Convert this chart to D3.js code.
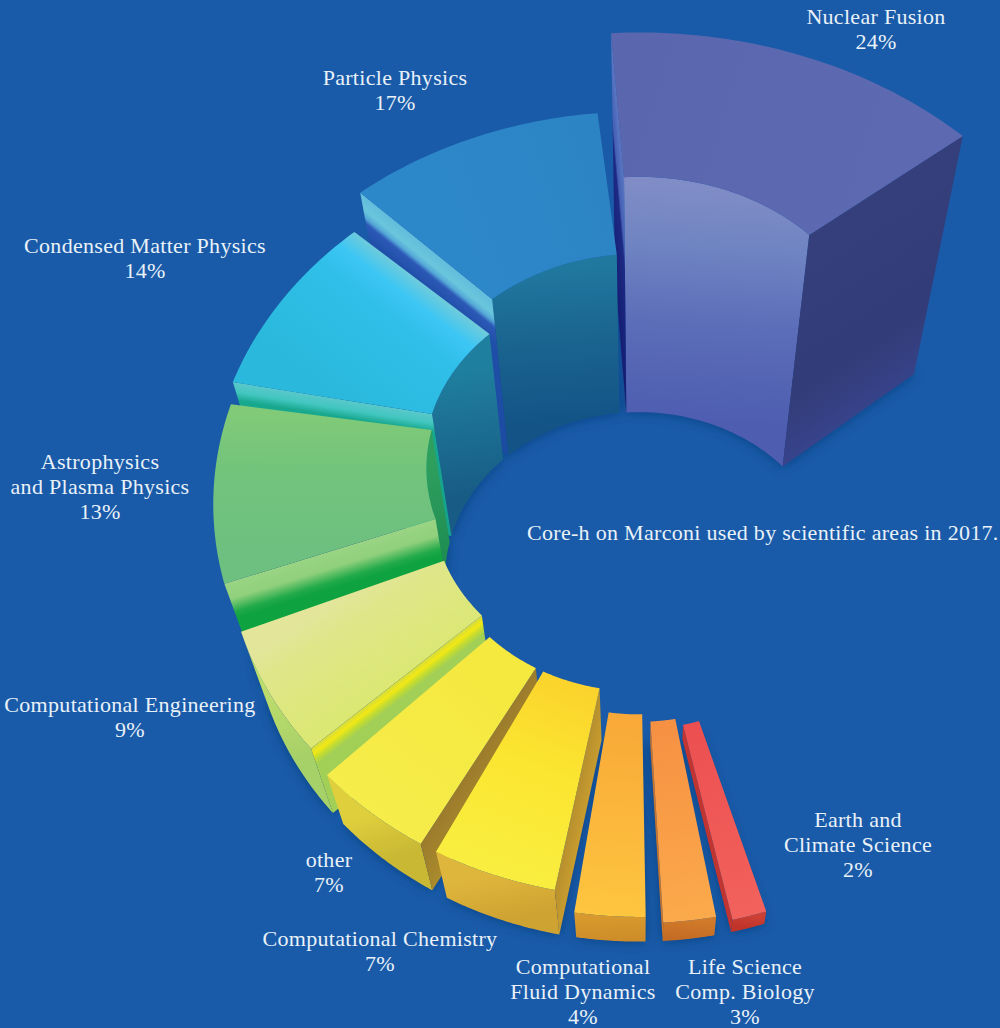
<!DOCTYPE html><html><head><meta charset="utf-8">
<script src="https://cdnjs.cloudflare.com/ajax/libs/d3/7.8.5/d3.min.js"></script>
<style>html,body{margin:0;background:#195ba8}svg{display:block}text{font-family:"Liberation Serif",serif;font-size:22px;fill:#e9f1f9;text-anchor:middle;letter-spacing:.3px}</style></head><body>
<script>
// Scientific areas, clockwise around the ring, and their share of core-hours (%)
const areas = ["Earth and Climate Science","Life Science Comp. Biology","Computational Fluid Dynamics","Computational Chemistry","other","Computational Engineering","Astrophysics and Plasma Physics","Condensed Matter Physics","Particle Physics","Nuclear Fusion"];
const shares = [2,3,4,7,7,9,13,14,17,24];
const chartTitle = "Core-h on Marconi used by scientific areas in 2017.";

// Text lines of each label, in the same order as the areas
const labelLines = [["Earth and","Climate Science"],["Life Science","Comp. Biology"],["Computational","Fluid Dynamics"],["Computational Chemistry"],["other"],["Computational Engineering"],["Astrophysics","and Plasma Physics"],["Condensed Matter Physics"],["Particle Physics"],["Nuclear Fusion"]];
const labelAnchors = [[858,827],[745,974],[583,974],[380,946],[329,867],[130,712],[100,469],[145,253],[395,85],[876,24]];
const labelStep = 25.2;

// Camera of the perspective view and size of the ring in world units
const cam = {ox:639.09, oy:462.29, focal:1783.66, dist:463.59, pitch:0.958, lift:27.32};
const outerRadius = 100, innerRadius = 50.31;
const ringStart = 2.8312, ringSpan = 4.3521, ringPad = 0.0391;
const height = d3.scaleLinear().domain([0,100]).range([0,383.54]);

// Face colours per slice: top, inner wall, outer wall, start cap, end cap. Stops run from the top edge of a wall downwards.
const paint = [
 {top:["radial",[[0,"#ec4f50"],[1,"#f2625c"]]], inner:[[0,"#c0332f"]], outer:[[0,"#cc3f34"],[1,"#bf3329"]], cs:[[0,"#c0332f"]], ce:[[0,"#c23430"]]},
 {top:["radial",[[0,"#f69043"],[1,"#fbaa4b"]]], inner:[[0,"#c8742a"]], outer:[[0,"#d07a2a"],[1,"#c56c24"]], cs:[[0,"#c8742a"]], ce:[[0,"#c8742a"]]},
 {top:["radial",[[0,"#f8a838"],[1,"#fec53f"]]], inner:[[0,"#d09030"]], outer:[[0,"#d89a2e"],[1,"#cd8c28"]], cs:[[0,"#d09030"]], ce:[[0,"#c88a2c"]]},
 {top:["radial",[[0,"#fbd32c"],[.45,"#fbe631"],[1,"#f9ee40"]]], inner:[[0,"#d0a030"]], outer:[[0,"#dfb63c"],[1,"#cea332"]], cs:[[0,"#b68f2e"],[1,"#c89c2e"]], ce:[[0,"#b08a2c"]]},
 {top:["radial",[[0,"#f5e83e"],[1,"#f6ec4a"]]], inner:[[0,"#b09a30"]], outer:[[0,"#e0cf3c"],[1,"#c9b834"]], cs:[[0,"#9c7c2c"],[1,"#a98a2c"]], ce:[[0,"#a08a30"]]},
 {top:["across",[[0,"#e2e59a"],[.25,"#dfe68a"],[1,"#dbe873"]]], inner:[[0,"#9cc050"]], outer:[[0,"#bcdc6c"],[1,"#a6d068"]], cs:[[0,"#d4dc40"],[.09,"#f2e814"],[.17,"#c4dc30"],[.26,"#a2cf56"],[1,"#a2cf56"]], ce:[[0,"#a6c850"]]},
 {top:["across",[[0,"#80ca78"],[.4,"#72c37c"],[1,"#6dc07f"]]], inner:[[0,"#2f9f5e"],[1,"#1c8a50"]], outer:[[0,"#62b46e"]], cs:[[0,"#9ad484"],[.15,"#90d07c"],[.27,"#22aa4a"],[.33,"#0fa240"],[1,"#0fa240"]], ce:[[0,"#3a9a5c"]]},
 {top:["across",[[0,"#6fcbdb"],[.14,"#3cc6f4"],[.32,"#2fbfe8"],[1,"#2ab9dc"]]], inner:[[0,"#1f7f9e"],[1,"#185c86"]], outer:[[0,"#2aa0c0"]], cs:[[0,"#5ac8cc"],[.08,"#42c6c0"],[.15,"#18a88e"],[1,"#14a28c"]], ce:[[0,"#1e6aa0"]]},
 {top:["across",[[0,"#2c84c4"],[1,"#2d88ca"]]], inner:[[0,"#20789f"],[.45,"#1a6490"],[1,"#135386"]], outer:[[0,"#206a9e"]], cs:[[0,"#62bcdc"],[.1,"#6ac6dc"],[.15,"#55a8d8"],[.19,"#2c58b6"],[.3,"#1f4fa8"],[1,"#1c4ba2"]], ce:[[0,"#1f4fa8"]]},
 {top:["across",[[0,"#5d69b0"],[1,"#5a66ae"]]], inner:[[0,"#7f8cc6"],[.25,"#6f84c2"],[.6,"#5b6cb8"],[1,"#4e5db0"]], outer:[[0,"#3f4a90"]], cs:[[0,"#5b78c4"],[.33,"#4560b4"],[.42,"#1d2a85"],[1,"#151d72"]], ce:[[0,"#343f7c"],[.7,"#323c78"],[1,"#37438a"]]}
];

// World to screen: the ring lies in the z = 0 plane, extrusions rise along z
const fy = Math.cos(cam.pitch), fz = -Math.sin(cam.pitch), uy = Math.sin(cam.pitch), uz = Math.cos(cam.pitch);
const camY = -cam.dist*fy + cam.lift*uy, camZ = -cam.dist*fz + cam.lift*uz;
function project(theta, radius, z) {
  const x = radius*Math.sin(theta), dy = radius*Math.cos(theta)-camY, dz = z-camZ;
  const w = dy*fy + dz*fz, v = dy*uy + dz*uz;
  return [cam.ox + cam.focal*x/w, cam.oy - cam.focal*v/w];
}
const radialFacing = (theta, radius) => {
  // Positive when the outward radial normal at this point looks towards the camera
  const nx = Math.sin(theta), ny = Math.cos(theta);
  return (0 - radius*nx)*nx + (camY - radius*ny)*ny;
};
function capFacing(theta, sign) {
  const tx = Math.cos(theta)*sign, ty = -Math.sin(theta)*sign;
  const r = (outerRadius+innerRadius)/2;
  return (0 - r*Math.sin(theta))*tx + (camY - r*Math.cos(theta))*ty;
}

const slices = d3.pie().sort(null).value(d=>d).startAngle(ringStart).endAngle(ringStart+ringSpan).padAngle(ringPad)(shares)
  .map((a,i)=>({i, value:a.value, a0:a.startAngle+a.padAngle/2, a1:a.endAngle-a.padAngle/2, z:height(a.value), name:areas[i]}));

const svg = d3.select("body").append("svg").attr("width",1000).attr("height",1028);
const defs = svg.append("defs");
defs.append("filter").attr("id","soft").attr("x","-20%").attr("y","-20%").attr("width","140%").attr("height","140%")
  .append("feGaussianBlur").attr("stdDeviation",6);
const polygon = pts => d3.line()(pts)+"Z";
let gid = 0;
function gradient(p, q, stops) {
  if (stops.length===1) return stops[0][1];
  const id = "g"+(gid++);
  const g = defs.append("linearGradient").attr("id",id).attr("gradientUnits","userSpaceOnUse")
    .attr("x1",p[0]).attr("y1",p[1]).attr("x2",q[0]).attr("y2",q[1]);
  stops.forEach(s=>g.append("stop").attr("offset",s[0]).attr("stop-color",s[1]));
  return `url(#${id})`;
}
const arcSteps = d => d3.range(0,41).map(j=>d.a0+(d.a1-d.a0)*j/40);

// Soft shadow cast on the background by the base of each slice
svg.append("g").attr("filter","url(#soft)").attr("opacity",.7).selectAll("path").data(slices).join("path")
  .attr("fill","#0a3672")
  .attr("d",d=>{const t=arcSteps(d);return polygon([...t.map(a=>project(a,outerRadius,0)),...t.slice().reverse().map(a=>project(a,innerRadius,0))]);});

// Far slices first so that nearer ones overlap them
const group = svg.append("g");
slices.slice().reverse().forEach(d=>{
  const g = group.append("g").attr("class","slice");
  const c = paint[d.i], mid=(d.a0+d.a1)/2, rm=(outerRadius+innerRadius)/2;
  const wall = (radius, sign, stops) => {
    const t = arcSteps(d).filter(a=>sign*radialFacing(a,radius)>0);
    if (t.length<2) return;
    const tm = t[t.length>>1];
    g.append("path").attr("d",polygon([...t.map(a=>project(a,radius,d.z)),...t.slice().reverse().map(a=>project(a,radius,0))]))
     .attr("fill",gradient(project(tm,radius,d.z),project(tm,radius,0),stops));
  };
  const cap = (theta, sign, stops) => {
    if (capFacing(theta,sign)<=0) return;
    // Colour bands run parallel to the top edge of the cap
    const a = project(theta,outerRadius,d.z), b = project(theta,innerRadius,d.z);
    const p = project(theta,rm,d.z), q = project(theta,rm,0);
    const ex = b[0]-a[0], ey = b[1]-a[1], len = Math.hypot(ex,ey), nx = -ey/len, ny = ex/len;
    const depth = (q[0]-p[0])*nx + (q[1]-p[1])*ny;
    g.append("path").attr("d",polygon([a,b,project(theta,innerRadius,0),project(theta,outerRadius,0)]))
     .attr("fill",gradient(p,[p[0]+nx*depth,p[1]+ny*depth],stops));
  };
  wall(outerRadius,1,c.outer);
  wall(innerRadius,-1,c.inner);
  cap(d.a0,-1,c.cs);
  cap(d.a1,1,c.ce);
  const t = arcSteps(d);
  const ends = c.top[0]==="radial" ? [project(mid,innerRadius,d.z),project(mid,outerRadius,d.z)] : [project(d.a1,rm,d.z),project(d.a0,rm,d.z)];
  g.append("path").attr("d",polygon([...t.map(a=>project(a,outerRadius,d.z)),...t.slice().reverse().map(a=>project(a,innerRadius,d.z))]))
   .attr("fill",gradient(ends[0],ends[1],c.top[1]));
});

// Labels: name lines followed by the percentage
const labels = svg.append("g").selectAll("text").data(slices).join("text")
  .attr("x",d=>labelAnchors[d.i][0]).attr("y",d=>labelAnchors[d.i][1]);
labels.selectAll("tspan").data(d=>[...labelLines[d.i],d.value+"%"].map((s,k)=>({s,k,i:d.i}))).join("tspan")
  .attr("x",e=>labelAnchors[e.i][0]).attr("y",e=>labelAnchors[e.i][1]+e.k*labelStep).text(e=>e.s);

svg.append("text").attr("x",527).attr("y",540).style("text-anchor","start").text(chartTitle);
</script></body></html>
